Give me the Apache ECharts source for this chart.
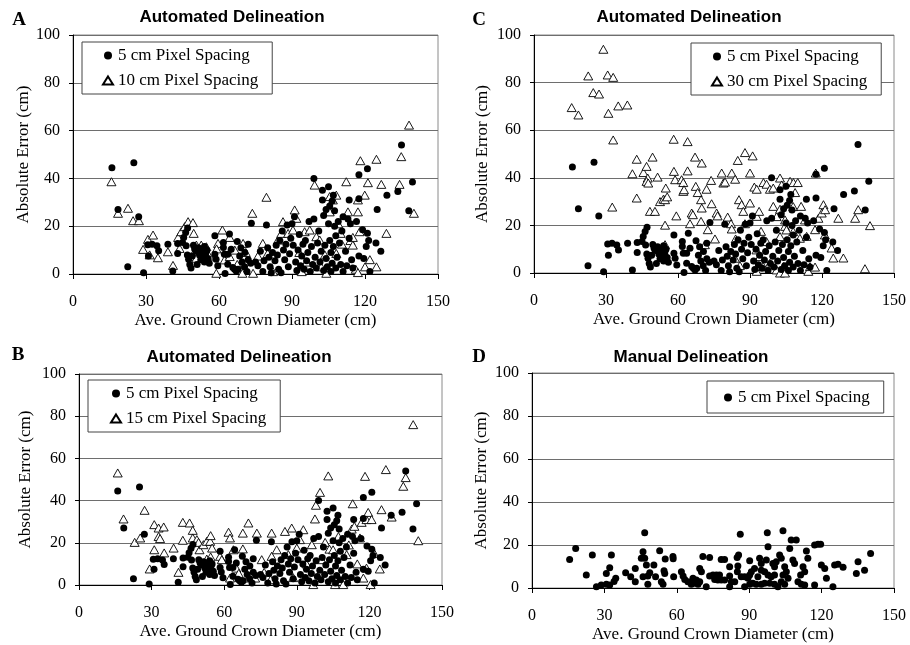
<!DOCTYPE html>
<html>
<head>
<meta charset="utf-8">
<script src="https://cdn.jsdelivr.net/npm/echarts@6/dist/echarts.min.js"></script>
<style>
html,body{margin:0;padding:0;background:#fff;}
#chart{width:910px;height:645px;}
</style>
</head>
<body>
<div id="chart"></div>
<script>
// ---- axis settings ----
const xMin = 0, xMax = 150, xStep = 30;
const yMin = 0, yMax = 100, yStep = 20;
const xAxisTitle = 'Ave. Ground Crown Diameter (cm)';
const yAxisTitle = 'Absolute Error (cm)';

// ---- panel labels ----
const panelLetters = ['A', 'C', 'B', 'D'];
const panelTitles = ['Automated Delineation', 'Automated Delineation', 'Automated Delineation', 'Manual Delineation'];
const seriesNames = ['5 cm Pixel Spacing', '10 cm Pixel Spacing', '15 cm Pixel Spacing', '30 cm Pixel Spacing'];

// ---- data: automated 5 cm (same in A, B, C) ----
const auto5 = [
[16,44.5],[25,46.5],[18.5,27],[27,24],[22.5,3],[29,0.5],
[30.7,12.2],[32.5,12.5],[34.5,11.8],[35.2,9.7],[31,7.5],
[39,12.5],[41,1.3],[43,12.8],[43,8.6],
[45.5,15.3],[46.3,17.4],[47.1,19.2],[45,13.2],[46.5,11.8],[47,8],[47.5,6.2],[48,4],[48.5,2.5],
[49.5,12],[50,10.5],[50.5,9.5],[51.5,11],[52,8],[52.5,6],[53,9.5],[53.5,7.5],[54,5],[54.5,8.5],[55,10],[55.5,6.5],[56,4.5],[54,11.5],[51,4],[49,7.5],
[58.3,16],[58.3,8.3],[58.8,6.2],[59.5,3.4],
[61.8,13.2],[61.8,11.1],[62.2,8.3],[62.5,0.2],[63.6,8.3],[64.3,16.7],[65,10.4],[63.6,4.1],[65.7,2.7],[66.4,2],[67.1,1.3],[67.8,2],[67.5,13.6],[68.5,7.5],[69,11],[69.5,5],[70.6,9],[70.5,3],[71.5,1],[72,12.5],[72,6],[73.3,21.2],[73,4.5],
[75,5],[76,3.5],[77,9.5],[78,1],[78.5,5.5],[79.5,20.5],[80,11],[80.5,7],[81,3],[81.5,0.5],[82,9],[83,5.5],[83.5,12],[84,8],[84.5,2],[85,14],[85.5,0.5],[86,18],[86.5,10],[87,6],[87.5,12.5],[88,20.5],[88.5,3],[89,8.5],[89.5,15],[90,21],[90.5,12],[91,24],[91.5,5],[92,1.5],[92.5,10],[93,16.5],[93.5,3.5],[94,7.5],[94.5,12.5],[95,2],[95.5,14],[96,5.5],[96.5,9],[97,22],[97.5,1],[98,11.5],[98.5,4],
[99,40],[99,23],[99.5,7],[100,2.5],[100.5,13],[101,18],[101.5,5],[102,9.5],[102.5,35],[102.5,31],[103,1.5],[103,24.5],[103.5,12],[104,6.5],[104,27],[104.5,3],[105,36.5],[105,21],[105.5,28.5],[105.5,14],[106,9],[106,1],[106.5,30.5],[106.5,4.5],[107,33],[107,11.5],[107.5,26.5],[107.5,20],[108,16],[108,2.5],[108.5,7],[109,22],[109.5,13],[110,4],[110.5,18],[111,24],[111,1],[112,9.5],[112.5,3.5],[113,23],[113.5,31],[113.5,15],[114,21],[114.5,6],[115,2.5],[116.5,22],[117.5,41.5],[117.5,31.5],[117.5,7.5],[119,18.5],[119.5,6.5],[120.5,11.5],[121,44],[121,17],[121.5,14],[122,1],
[125,27],[124.5,13],[126.5,9.5],[129,33],[133.5,34.5],[135,54],[138,26.5],[139.5,38.5]
];

// ---- data: automated 10 cm (A) ----
const auto10 = [
[15.8,38.6],[18.5,25.4],[22.6,27.5],[24.7,22.3],[27.1,22.3],[28.8,10.3],[30.8,14.5],[32.9,16.3],[34.9,6.8],[31.5,8],[39,9.3],[41.1,3.6],[43.2,15.3],[44.5,17.7],[45.9,19.8],[47.3,21.9],[49.3,21.5],[49.6,17],[43.8,10.7],[50.7,12.1],[52.7,12.1],[54.8,11.4],[48.6,7.3],[50.7,6.6],[53.5,9],[56,7.5],[58.9,0.3],[59.6,12.8],[59,10.5],[61.4,18.4],[64.4,15.3],[62.3,5.9],[64.4,7.3],[66.5,10],[67.5,4],[69.9,12.8],[69.6,0.3],[71,9],[73.7,25.4],[74,0.3],[76,7.5],[79.5,32.1],[78,12.8],[80,8.6],[82.2,1],[84.2,14.2],[85.6,17],[86.3,21.9],[88.4,17],[90.4,18.4],[91.1,26.8],[91.8,23.3],[93,9],[94,1],[95.2,17.7],[97.3,18.4],[96,5],[99.3,37.2],[100,15.6],[101.4,14.2],[102,3],[104.1,0.3],[103.5,8],[105.5,32.4],[106.8,31],[108.2,33],[105.5,26],[108.2,8.6],[109,21],[110,17],[110.5,12.5],[112.3,38.6],[113,26],[114,14],[115,15.3],[115,12.1],[116.2,2],[117.1,0.6],[117.1,26],[117.1,31],[117.8,17.7],[118.1,47.4],[119.9,33],[120,3],[121.2,38.2],[122,6],[124.7,48],[124.7,3],[126.7,37.5],[128.8,17],[134.2,37.5],[134.9,49.1],[138.1,62.3],[140.1,25.4]
];

// ---- data: automated 15 cm (B) ----
const auto15 = [
[16,53.1],[18.4,31.3],[23,20.2],[25.3,22.3],[27.1,35.4],[29.2,7.6],[31.1,28.6],[31.1,16.7],[32.9,23],[33.5,22],[32.9,27],[35,27.5],[35.2,15.2],[39.1,17.5],[41.1,6],[42.9,29.7],[42.9,21.2],[45.7,29.4],[47,25.9],[47,22.3],[48.7,21.5],[49.4,20.2],[49.8,16.7],[51.4,19.1],[52.8,20.7],[54.2,20.7],[54.4,23.4],[52.8,12.3],[54.4,13.3],[55,17.5],[58.3,13.6],[59,12],[61.8,25],[62.4,22.3],[62.4,3.3],[63.8,16.7],[65,8],[66,5.5],[67.7,17.1],[67.7,24.6],[70,29.4],[70,3.3],[72.8,3.3],[73.5,24.6],[75.5,12],[76.5,6],[79.6,24.6],[79.6,13.6],[79.2,2.5],[81.7,16.7],[85.1,25.4],[86.5,14.4],[87.9,27],[88.5,3.5],[90,17.5],[91.3,21.5],[92.7,26.2],[94,10],[96.2,19.1],[96.8,0.2],[97.5,31.3],[97.9,37.8],[99.6,43.9],[100.3,12],[101.7,20.2],[103,51.7],[103.5,17],[105,16.7],[105.8,0.2],[107.2,23],[109.2,0.2],[110.6,14.4],[111.5,19],[112.7,26.5],[113.1,38.5],[113.8,27.8],[115,10],[116.1,22.3],[116.8,29.7],[117.5,3.3],[118.2,51.5],[118.8,31],[118.8,8],[119.5,34.4],[120.5,0.2],[120.9,31],[122,15],[125,35.7],[124.3,7.6],[126.8,54.7],[129.2,32.2],[134,46.8],[135,50.9],[138.1,76],[140.2,21]
];

// ---- data: automated 30 cm (C) ----
const auto30 = [
[15.7,69.5],[18.5,66.4],[22.6,82.8],[24.7,75.8],[27.1,75.2],[28.9,94],[30.7,83.2],[33,82.2],[31,67.1],[35.1,70.2],[38.9,70.6],[33,55.9],[32.6,27.7],
[41,41.7],[42.8,47.8],[42.8,31.5],[45.6,42.2],[46.9,44.8],[47.4,39.9],[46.9,38.5],[47.6,37.8],[49.4,48.7],[48.3,25.9],[50.4,25.9],[51.5,40.3],[52.5,30],[53.9,31],[54.6,30.8],[54.9,35.7],[55.5,32],[54.6,20.1],[54.6,11.9],[58.2,56.2],[58.3,42.7],[58.8,39.2],[59.3,24],[61.5,39.2],[62.2,38],[62.2,34.3],[62.5,35],[64,55.2],[64,42.9],[65,20.7],[65.7,25.2],[66.2,24.5],[67.1,48.7],[67.4,36.4],[68.2,33.8],[69.9,46.2],[69.6,30.8],[69.9,27.3],[69.6,21.7],[72.4,18.2],[71.2,11.9],[71.9,35.2],[73.8,38.9],[74,29.1],[75.4,14.3],[76.1,25.2],[76.5,24],[78.2,42],[78.9,37.8],[79.6,38.2],[80.7,23.5],[82.1,20.7],[82.4,18.5],[82.4,42],[83.8,39.4],[84,14.3],[84.9,47.3],[85.4,30.8],[86.5,28.7],[85.8,3.1],[83.7,6.2],[87.2,25.9],[87.9,50.6],[90,29.4],[91.1,49.2],[90,42],[87.9,20.7],[91.8,36.1],[92.8,35.2],[92.8,23.8],[92.8,0.7],[93.8,25.9],[94.6,17.5],[92.7,9.7],[94.1,6.9],[95.5,2.7],[96.9,13.2],[95.6,38],[96.9,37.3],[98.3,35.2],[99.7,28],[99.7,35.7],[101.1,23.7],[98.3,4.1],[101.1,1.3],[102.5,39.9],[103.2,37],[102.5,26.8],[102.5,15.3],[102.5,0],[103.9,2.7],[104.6,0],[104.6,19.6],[104.6,22.3],[105.2,18.1],[106.7,38.5],[108.1,38],[109.9,38],[108.8,33.8],[108,27.9],[108,17.4],[110.8,14.6],[111.3,28],[112.9,22.3],[113.6,15.4],[114.3,0.7],[115,2.7],[117.1,18.2],[117.1,2.5],[117.4,42],[118.5,23],[119.9,25.2],[120.6,28.7],[121.3,26.6],[121.2,16],[124,10.5],[124.7,6.3],[126.8,23],[128.9,6.3],[133.8,23],[135.1,26.6],[137.9,1.8],[140,19.9]
];

// ---- data: manual 5 cm (D) ----
const manual5 = [
[15.6,13.3],[18.1,18.4],[22.5,6],[25,15.3],[26.7,0.6],[28.7,1.4],[30.8,1.8],[32.2,1.4],[30.8,6.8],[32.2,9.4],[32.9,15.3],[34,3],[34.7,4.5],[38.8,7.1],[40.9,5.2],[42.8,9.1],[42.8,2.9],[46.7,25.7],[46,16.9],[45.3,13.8],[46.7,13.8],[47.4,10.7],[46,5.2],[48,5.6],[48.8,7.1],[48,1.8],[50.5,10.7],[51.2,5.2],[52.9,17.3],[53.6,2.9],[54.3,1.8],[55,6.8],[54.7,8],[55.2,13.5],[58.4,14.6],[58.5,13.6],[58.7,5.2],[61.9,7.6],[62.6,5.6],[63.3,4],[64.6,2.9],[66,1.8],[66.7,4.5],[67.4,2.2],[68.1,3.7],[68.8,1.8],[69.5,2.9],[70.2,7.6],[69.5,9.1],[70.8,14.6],[72.2,0.6],[73.6,14.2],[73.6,5.6],[75,6],[76.4,6],[77.7,6],[75.7,4],[77,3.7],[78.4,3.7],[79.8,3.7],[78.4,13.3],[79.8,13.3],[81.9,5.6],[81.9,9.9],[81.9,0.6],[82.6,2.9],[84,2.9],[85,14.2],[85.6,15.3],[85.1,7.6],[85.3,10.2],[86.3,25],[86.7,5.2],[88.1,5.2],[89.5,4.5],[88.1,0.6],[90.2,1.8],[90.2,12.7],[92.2,9.1],[90.9,7.6],[90.2,6],[93.6,5.2],[91.5,2.2],[92.9,1.8],[95,1.8],[96.4,2.2],[98.5,2.2],[100.5,1.8],[94.3,13.8],[95,11.4],[97.1,13],[97.8,19.2],[97.5,25.7],[95,8.3],[96.4,7.6],[97.8,6],[99.1,5.2],[100.5,6],[99.8,11.4],[100.5,9.9],[101.2,12.2],[102.6,15.3],[103.3,13.8],[104,26.6],[104.7,9.9],[105.4,7.6],[104,6],[106.1,4.5],[103.3,2.9],[104.7,1.8],[101.9,0.6],[106.8,18.4],[107.4,22.3],[109.5,22.3],[108.1,13],[108.8,11.4],[112.3,9.9],[113,7.6],[111.3,6],[110.2,2.9],[111.6,1.8],[113,1.4],[113.7,17.2],[114.3,13.8],[117.1,20],[118.5,20.3],[119.6,20.4],[117.1,1.4],[119.9,10.7],[121.3,9.1],[122,4.5],[124.7,0.6],[125.4,10.7],[126.8,11.1],[128.9,9.6],[134.4,6.8],[135.1,12.2],[137.8,8.3],[140.3,16.1]
];

// ---- layout (pixels) ----
const grids = [
  {left: 73, top: 35, width: 365, height: 239},   // A
  {left: 534, top: 35, width: 360, height: 238},  // C
  {left: 79, top: 374, width: 363, height: 211},  // B
  {left: 532, top: 373, width: 362, height: 215}  // D
];
const yNameGaps = [40, 43, 45, 42];
const letterPos = [[19, 20], [479, 20], [18, 355], [479, 357]];
const titlePos = [[232, 17], [689, 17], [239, 357], [691, 357]];

const serif = 'Liberation Serif';
const sans = 'Liberation Sans';

const chart = echarts.init(document.getElementById('chart'), null, {renderer: 'canvas'});

const titles = [];
panelTitles.forEach((t, i) => {
  titles.push({text: t, left: titlePos[i][0], top: titlePos[i][1] - 9, textAlign: 'center', padding: 0,
    textStyle: {fontFamily: sans, fontWeight: 'bold', fontSize: 17, color: '#000', lineHeight: 18}});
  titles.push({text: panelLetters[i], left: letterPos[i][0], top: letterPos[i][1] - 10, textAlign: 'center', padding: 0,
    textStyle: {fontFamily: serif, fontWeight: 'bold', fontSize: 19, color: '#000', lineHeight: 20}});
});

const xAxes = grids.map((g, i) => ({
  type: 'value', gridIndex: i, min: xMin, max: xMax, interval: xStep,
  name: xAxisTitle, nameLocation: 'middle', nameGap: 38,
  nameTextStyle: {fontFamily: serif, fontSize: 17, color: '#000'},
  axisLine: {show: true, onZero: false, lineStyle: {color: '#000', width: 1}},
  axisTick: {show: true, length: 5, lineStyle: {color: '#000'}},
  axisLabel: {fontFamily: serif, fontSize: 16, color: '#000', margin: 20},
  splitLine: {show: false}
}));
const yAxes = grids.map((g, i) => ({
  type: 'value', gridIndex: i, min: yMin, max: yMax, interval: yStep,
  name: yAxisTitle, nameLocation: 'middle', nameGap: yNameGaps[i],
  nameTextStyle: {fontFamily: serif, fontSize: 17, color: '#000'},
  axisLine: {show: true, lineStyle: {color: '#000', width: 1}},
  axisTick: {show: true, length: 4, lineStyle: {color: '#000'}},
  axisLabel: {fontFamily: serif, fontSize: 16, color: '#000', margin: 13},
  splitLine: {show: true, lineStyle: {color: '#6e6e6e', width: 1}}
}));

const dotStyle = {symbol: 'circle', symbolSize: 7, itemStyle: {color: '#000', opacity: 1}};
const triStyle = {symbol: 'triangle', symbolSize: [9, 8], itemStyle: {color: '#fff', borderColor: '#000', borderWidth: 0.9, opacity: 1}};

function sc(name, data, gi, style, z) {
  return Object.assign({type: 'scatter', name: name, data: data, xAxisIndex: gi, yAxisIndex: gi, z: z,
    animation: false, emphasis: {disabled: true}}, style);
}

const series = [
  sc(seriesNames[1], auto10, 0, triStyle, 2), sc(seriesNames[0], auto5, 0, dotStyle, 3),
  sc(seriesNames[3], auto30, 1, triStyle, 2), sc(seriesNames[0], auto5, 1, dotStyle, 3),
  sc(seriesNames[2], auto15, 2, triStyle, 2), sc(seriesNames[0], auto5, 2, dotStyle, 3),
  sc(seriesNames[0], manual5, 3, dotStyle, 3)
];

const legendBase = {
  orient: 'vertical', backgroundColor: '#fff', borderColor: '#444', borderWidth: 1,
  itemWidth: 10, itemHeight: 8, itemGap: 8, padding: [5, 14, 5, 20], selectedMode: false,
  textStyle: {fontFamily: serif, fontSize: 17, color: '#000', lineHeight: 17}
};
const legends = [
  Object.assign({}, legendBase, {left: 82, top: 42, data: [seriesNames[0], seriesNames[1]]}),
  Object.assign({}, legendBase, {left: 691, top: 43, data: [seriesNames[0], seriesNames[3]]}),
  Object.assign({}, legendBase, {left: 88, top: 380, padding: [5, 14, 5, 22], data: [seriesNames[0], seriesNames[2]]}),
  Object.assign({}, legendBase, {left: 707, top: 381, padding: [8, 14, 7, 17], data: [seriesNames[0]]})
];

chart.setOption({
  backgroundColor: '#fff',
  animation: false,
  title: titles,
  grid: grids.map(g => Object.assign({show: true, borderColor: '#8a8a8a', borderWidth: 1, backgroundColor: 'transparent'}, g)),
  xAxis: xAxes,
  yAxis: yAxes,
  legend: legends,
  series: series
});
</script>
</body>
</html>
